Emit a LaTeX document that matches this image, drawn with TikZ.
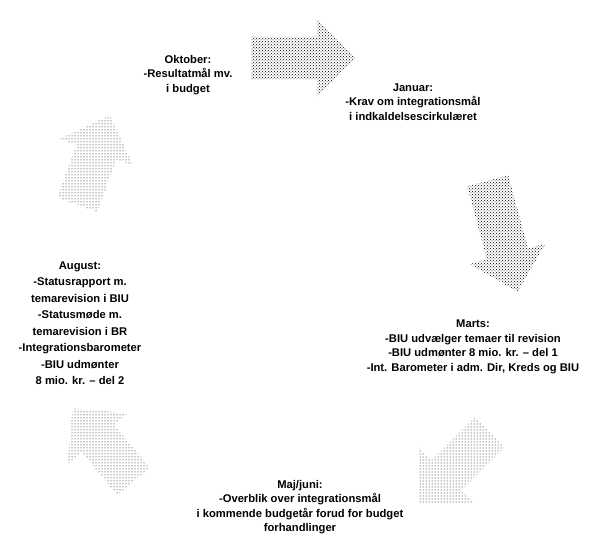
\documentclass[tikz,border=0pt]{standalone}
\usepackage{fontspec}
\setmainfont{Liberation Sans}
\usepackage{tikz}
\usetikzlibrary{shapes.arrows, patterns}

\begin{document}
\begin{tikzpicture}[
  x=1pt, y=1pt,
  every node/.style={align=center},
  txt/.style={font=\fontsize{11.2}{14.5}\selectfont\bfseries},
  blk/.style={single arrow, draw=none, inner xsep=0pt, inner ysep=21pt,
    single arrow head extend=18pt, pattern=crosshatch dots, pattern color=black},
  lite/.style={blk, pattern=dots}
]
  \useasboundingbox (0,0) rectangle (603,538);

  % the year round, clockwise
  \node[blk,  minimum height=105pt, rotate=0]    (arrjan) at (293,480) {};
  \node[blk,  minimum height=115pt, rotate=-75]  (arrmar) at (500,312) {};
  \node[lite, minimum height=100pt, rotate=-135] (arrmaj) at (462,78)  {};
  \node[lite, minimum height=95pt,  rotate=130]  (arraug) at (110,85)  {};
  \node[lite, minimum height=95pt,  rotate=70]   (arrokt) at (90,368)  {};

  \node[txt] (okt) at (188,463) {Oktober:\\-Resultatmål mv.\\i budget};
  \node[txt] (jan) at (413,436) {Januar:\\-Krav om integrationsmål\\i indkaldelsescirkulæret};
  \node[txt] (mar) at (473,191) {Marts:\\-BIU udvælger temaer til revision\\-BIU udmønter 8 mio. kr. -- del 1\\-Int. Barometer i adm. Dir, Kreds og BIU};
  \node[txt, font=\fontsize{11.2}{16.5}\selectfont\bfseries] (aug) at (80,215) {August:\\-Statusrapport m.\\temarevision i BIU\\-Statusmøde m.\\temarevision i BR\\-Integrationsbarometer\\-BIU udmønter\\8 mio. kr. -- del 2};
  \node[txt] (maj) at (300,31) {Maj/juni:\\-Overblik over integrationsmål\\i kommende budgetår forud for budget\\forhandlinger};
\end{tikzpicture}
\end{document}
